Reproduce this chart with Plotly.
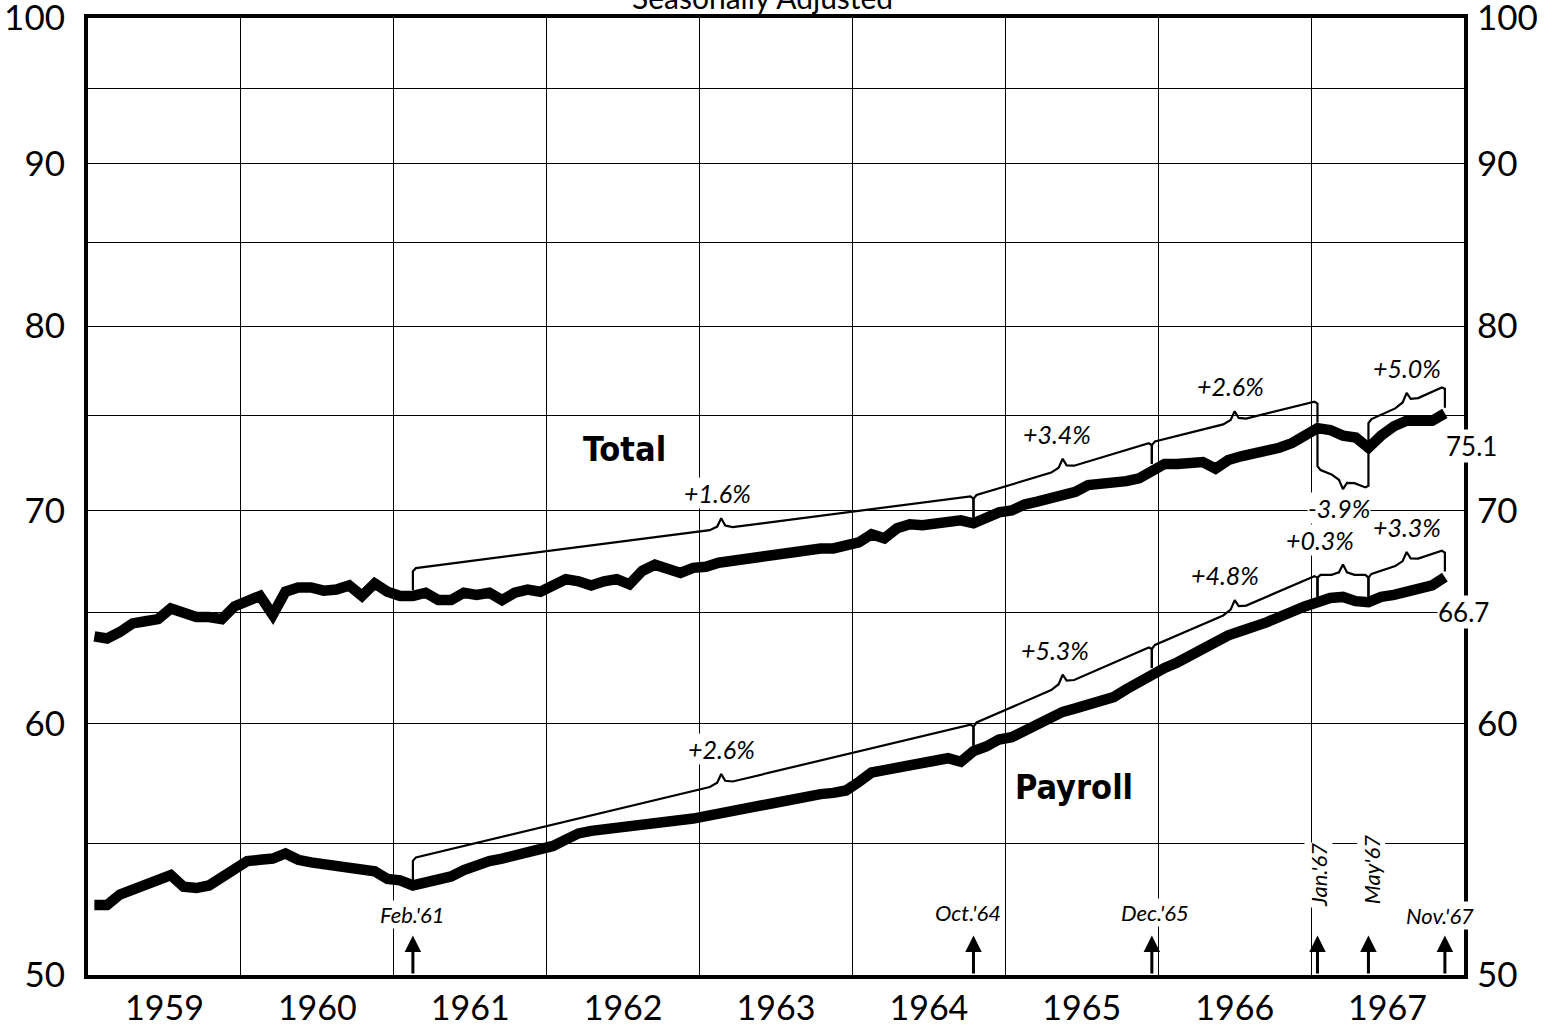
import math
import plotly.graph_objects as go

# ---------------- data (monthly, Jan 1959 .. Nov 1967) ----------------
start_year = 1959
total = [
    63.9, 63.8, 64.1, 64.5, 64.6, 64.7, 65.2, 65.0, 64.8, 64.8, 64.7, 65.3,   # 1959
    65.5, 65.8, 64.9, 66.0, 66.2, 66.2, 66.05, 66.1, 66.3, 65.8, 66.4, 66.0,  # 1960
    65.8, 65.8, 65.95, 65.6, 65.6, 65.95, 65.85, 65.95, 65.6, 65.95, 66.1, 66.0,  # 1961
    66.3, 66.6, 66.5, 66.3, 66.5, 66.6, 66.35, 67.0, 67.3, 67.15, 66.9, 67.15,  # 1962
    67.2, 67.4, 67.5, 67.6, 67.7, 67.8, 67.9, 68.0, 68.0, 68.1, 68.1, 68.2,   # 1963
    68.4, 68.8, 68.6, 69.1, 69.3, 69.25, 69.35, 69.4, 69.5, 69.35, 69.7, 69.9,  # 1964
    70.0, 70.3, 70.45, 70.6, 70.8, 70.95, 71.3, 71.35, 71.4, 71.5, 71.65, 72.1,  # 1965
    72.4, 72.4, 72.4, 72.5, 72.15, 72.6, 72.8, 72.95, 73.05, 73.25, 73.5, 73.85,  # 1966
    74.3, 74.2, 73.9, 73.8, 73.25, 73.9, 74.4, 74.7, 74.7, 74.7, 75.1,        # 1967
]
payroll = [
    52.6, 52.6, 53.0, 53.2, 53.4, 53.65, 53.75, 53.3, 53.25, 53.35, 53.7, 54.0,  # 1959
    54.3, 54.35, 54.4, 54.6, 54.35, 54.25, 54.2, 54.1, 54.05, 54.0, 53.9, 53.6,  # 1960
    53.55, 53.35, 53.45, 53.55, 53.7, 53.95, 54.15, 54.3, 54.4, 54.5, 54.6, 54.75,  # 1961
    54.9, 55.15, 55.4, 55.5, 55.55, 55.65, 55.7, 55.75, 55.85, 55.9, 55.95, 56.0,  # 1962
    56.1, 56.2, 56.3, 56.4, 56.55, 56.7, 56.8, 56.85, 56.95, 57.0, 57.05, 57.15,  # 1963
    57.5, 57.9, 58.0, 58.1, 58.2, 58.3, 58.4, 58.5, 58.35, 58.8, 59.0, 59.3,   # 1964
    59.4, 59.7, 60.0, 60.3, 60.5, 60.65, 60.8, 60.95, 61.15, 61.5, 61.85, 62.2,  # 1965
    62.45, 62.7, 63.0, 63.35, 63.7, 63.95, 64.15, 64.3, 64.55, 64.8, 65.1, 65.3,  # 1966
    65.5, 65.7, 65.75, 65.55, 65.5, 65.75, 65.85, 66.0, 66.1, 66.3, 66.7,      # 1967
]
year_labels = ["1959", "1960", "1961", "1962", "1963", "1964", "1965", "1966", "1967"]
y_tick_values = [50, 55, 60, 65, 70, 75, 80, 85, 90, 95, 100]
y_tick_text = ["50", "", "60", "", "70", "", "80", "", "90", "", "100"]

event_labels = ["Feb.'61", "Oct.'64", "Dec.'65", "Jan.'67", "May'67", "Nov.'67"]
event_index = [25, 69, 83, 96, 100, 106]          # months since Jan 1959
total_rates = ["+1.6%", "+3.4%", "+2.6%", "-3.9%", "+5.0%"]
total_dirs = [1, 1, 1, -1, 1]
payroll_rates = ["+2.6%", "+5.3%", "+4.8%", "+0.3%", "+3.3%"]
payroll_dirs = [1, 1, 1, 1, 1]
notch_frac = [0.55, 0.5, 0.5, 0.5, 0.5]
payroll_label_xshift = [0, -8, -10, -23, 0]
total_label_xshift = [-4, -6, -4, -4, 0]

# ---------------- helpers ----------------
xd = [start_year + (i + 0.5) / 12 for i in range(len(total))]
FONT = "Lato, 'Noto Sans', sans-serif"
K_UP = 1.02     # bracket offset above the series
K_DOWN = 1.03   # bracket offset below the series
NOTCH = 1.0075  # curly-brace point height
W = 0.075       # half width of the curly point (years)


def bracket(series, dirs):
    xs, ys, marks = [], [], []
    for j in range(len(event_index) - 1):
        a, b = event_index[j], event_index[j + 1]
        d = dirs[j]
        fa = K_UP if d > 0 else 1 / K_DOWN
        xa, xb = xd[a], xd[b]
        ya, yb = series[a] * fa, series[b] * fa

        def line_at(x):
            f = (x - xa) / (xb - xa)
            return ya * (yb / ya) ** f
        xm = xa + notch_frac[j] * (xb - xa)
        near = 1.004 if d > 0 else 1 / 1.004
        corner = 1 / 1.002 if d > 0 else 1.002
        xs += [xa, xa, xa + 0.02]
        ys += [series[a] * near, line_at(xa) * corner, line_at(xa + 0.02)]
        xs += [xm - W, xm - W * 0.35, xm, xm + W * 0.35, xm + W]
        nm = NOTCH if d > 0 else 1 / NOTCH
        ys += [line_at(xm - W), line_at(xm - W * 0.35) * nm ** 0.25, line_at(xm) * nm,
               line_at(xm + W * 0.35) * nm ** 0.25, line_at(xm + W)]
        xs += [xb - 0.02, xb, xb]
        ys += [line_at(xb - 0.02), line_at(xb) * corner, series[b] * near]
        xs.append(None)
        ys.append(None)
        marks.append((xm, line_at(xm) * nm, d))
    return xs, ys, marks


fig = go.Figure()

tx, ty, tmarks = bracket(total, total_dirs)
px_, py_, pmarks = bracket(payroll, payroll_dirs)
fig.add_trace(go.Scatter(x=tx, y=ty, mode="lines", line=dict(color="black", width=2.2),
                         hoverinfo="skip", showlegend=False))
fig.add_trace(go.Scatter(x=px_, y=py_, mode="lines", line=dict(color="black", width=2.2),
                         hoverinfo="skip", showlegend=False, yaxis="y2"))
fig.add_trace(go.Scatter(x=xd, y=total, mode="lines", name="Total",
                         line=dict(color="black", width=10.5), showlegend=False))
fig.add_trace(go.Scatter(x=xd, y=payroll, mode="lines", name="Payroll",
                         line=dict(color="black", width=10.5), showlegend=False, yaxis="y2"))

ann = []
lab_font = dict(family=FONT, size=25, color="black")
for marks, rates, shifts in ((tmarks, total_rates, total_label_xshift),
                             (pmarks, payroll_rates, payroll_label_xshift)):
    for (xm, ym, d), t, xs_ in zip(marks, rates, shifts):
        ann.append(dict(x=xm, y=math.log10(ym), xref="x", yref="y", text="<i>%s</i>" % t,
                        showarrow=False, yanchor="bottom" if d > 0 else "top",
                        yshift=9 if d > 0 else -3, xshift=xs_, font=lab_font,
                        bgcolor="white", borderpad=0))

# end values
ann.append(dict(x=xd[-1], y=math.log10(total[-1]), xref="x", yref="y", text="%.1f" % total[-1],
                showarrow=False, xanchor="left", yanchor="top", xshift=0, yshift=-16,
                font=dict(family=FONT, size=26, color="black"), bgcolor="white", borderpad=0))
ann.append(dict(x=xd[-1], y=math.log10(payroll[-1]), xref="x", yref="y", text="%.1f" % payroll[-1],
                showarrow=False, xanchor="left", yanchor="top", xshift=-8, yshift=-18,
                font=dict(family=FONT, size=26, color="black"), bgcolor="white", borderpad=0))

# series names
name_font = dict(family="'DejaVu Sans Condensed', 'Liberation Sans Narrow', 'Arial Narrow', sans-serif",
                 size=34, color="black")
ann.append(dict(x=1962.51, y=math.log10(73.2), xref="x", yref="y", text="<b>Total</b>",
                showarrow=False, font=name_font))
ann.append(dict(x=1965.45, y=math.log10(57.3), xref="x", yref="y", text="<b>Payroll</b>",
                showarrow=False, font=name_font))

# event arrows and labels
ev_font = dict(family=FONT, size=22, color="black")
ev_y = [0.063, 0.065, 0.065, 0.105, 0.110, 0.062]
ev_angle = [0, 0, 0, -90, -90, 0]
ev_xshift = [0, -5, 3, 1, 3, -5]
for idx, lab, yy, ang, xsh in zip(event_index, event_labels, ev_y, ev_angle, ev_xshift):
    ann.append(dict(x=xd[idx], y=math.log10(51.45), xref="x", yref="y",
                    ax=xd[idx], ay=math.log10(50), axref="x", ayref="y",
                    showarrow=True, arrowhead=2, arrowsize=1.1, arrowwidth=3,
                    arrowcolor="black", text="", standoff=0))
    ann.append(dict(x=xd[idx], y=yy, xref="x", yref="paper", text="<i>%s</i>" % lab,
                    showarrow=False, textangle=ang, xshift=xsh, yanchor="middle",
                    xanchor="center", font=ev_font, bgcolor="white", borderpad=0))

ann.append(dict(x=0.49, y=1.0012, xref="paper", yref="paper", text="Seasonally Adjusted",
                showarrow=False, yanchor="bottom", font=dict(family=FONT, size=30, color="black")))

yax = dict(type="log", range=[math.log10(50), math.log10(100)], tickvals=y_tick_values,
           ticktext=y_tick_text, tickfont=dict(family=FONT, size=35, color="black"),
           ticks="", ticklabelstandoff=12, fixedrange=True, automargin=False,
           ticklabeloverflow="allow")

fig.update_layout(
    width=1552, height=1028, autosize=False,
    margin=dict(l=88, r=88, t=18, b=53),
    paper_bgcolor="white", plot_bgcolor="white",
    showlegend=False,
    xaxis=dict(range=[1959, 1968], tickvals=[int(y) + 0.5 for y in year_labels], ticktext=year_labels,
               showgrid=False, ticks="", zeroline=False, automargin=False,
               ticklabeloverflow="allow", fixedrange=True,
               tickfont=dict(family=FONT, size=34, color="black"), ticklabelstandoff=0,
               showline=True, linecolor="black", linewidth=4, mirror=True,
               minor=dict(tick0=1959, dtick=1, showgrid=True, gridcolor="black", gridwidth=1.3, ticks="")),
    yaxis=dict(**yax, side="left", showgrid=True, gridcolor="black", gridwidth=1.3,
               showline=True, linecolor="black", linewidth=4, mirror=True),
    yaxis2=dict(**yax, side="right", overlaying="y", anchor="x", showgrid=False, showline=False),
    annotations=ann,
)

fig.write_html("out.html", config={"displayModeBar": False},
               post_script="document.body.style.margin='0';document.body.style.overflow='hidden';")
